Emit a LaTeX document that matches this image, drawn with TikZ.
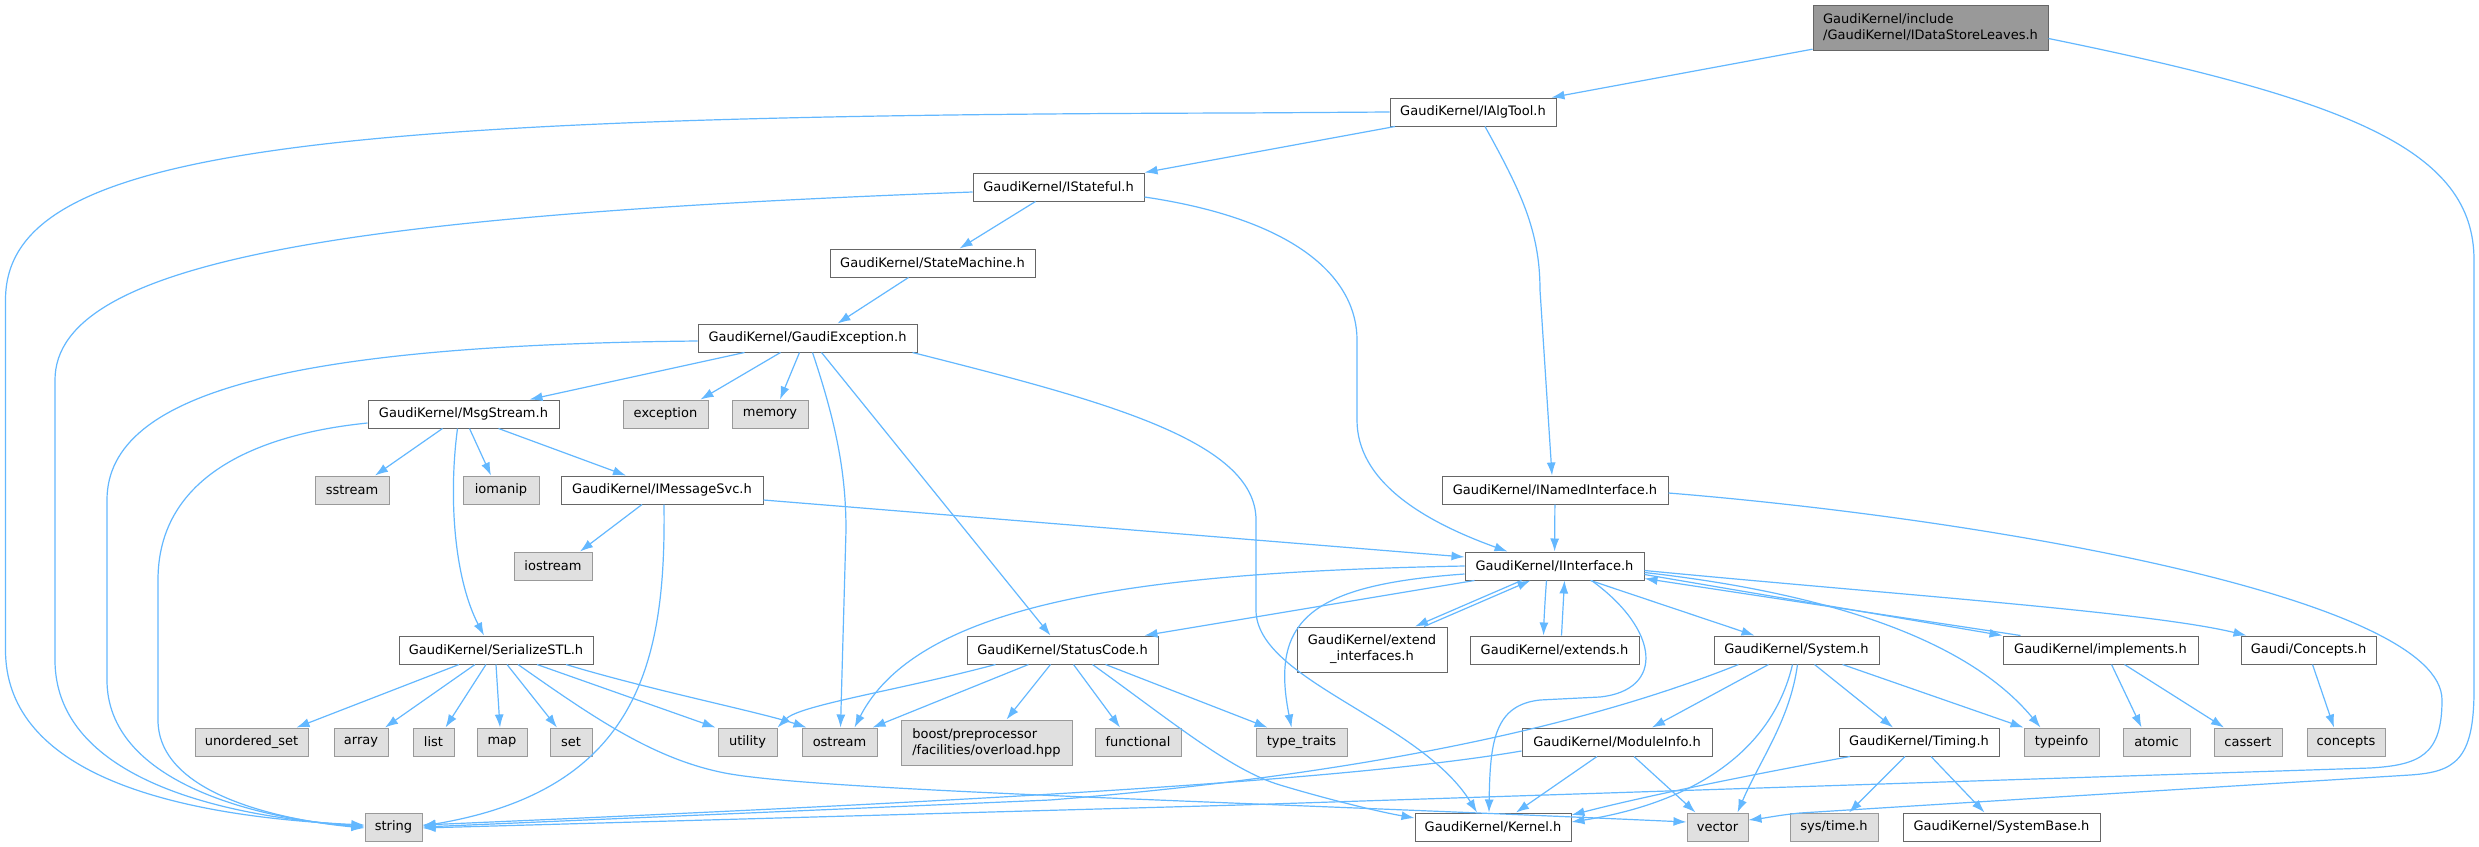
\documentclass[tikz,border=0pt]{standalone}
\usepackage{fontspec}
\newfontfamily\dfont{DejaVu Sans}
\usetikzlibrary{arrows.meta}
\definecolor{edgeblue}{HTML}{63B8FF}
\definecolor{nodeborder}{HTML}{666666}
\definecolor{gborder}{HTML}{999999}
\definecolor{gfill}{HTML}{E0E0E0}
\definecolor{rootfill}{HTML}{999999}
\begin{document}
\begin{tikzpicture}[x=1pt,y=-1pt,
  nb/.style={draw=nodeborder, fill=white, line width=1pt, minimum height=28pt, inner sep=0pt,
    font=\dfont\fontsize{13}{16}\selectfont},
  gb/.style={nb, draw=gborder, fill=gfill},
  rb/.style={nb, fill=rootfill},
  e/.style={draw=edgeblue, line width=1.2pt, -{Latex[length=13pt,width=9pt]}},
]
\useasboundingbox (0,0) rectangle (2479,846);
\fill[white] (0,0) rectangle (2479,846);
% nodes
\node[rb, minimum width=235pt, minimum height=45pt, align=left] (root) at (1930.5,27.5) {GaudiKernel/include\\/GaudiKernel/IDataStoreLeaves.h};
\node[nb, minimum width=166pt] (IAlgTool) at (1473,112) {GaudiKernel/IAlgTool.h};
\node[nb, minimum width=171pt] (IStateful) at (1058.5,187) {GaudiKernel/IStateful.h};
\node[nb, minimum width=205pt] (StateMachine) at (932.5,263) {GaudiKernel/StateMachine.h};
\node[nb, minimum width=219pt] (GE) at (807.5,338) {GaudiKernel/GaudiException.h};
\node[nb, minimum width=191pt] (MsgStream) at (463.5,414) {GaudiKernel/MsgStream.h};
\node[gb, minimum width=85pt] (exception) at (665.5,414) {exception};
\node[gb, minimum width=76pt] (memory) at (770,414) {memory};
\node[gb, minimum width=74pt] (sstream) at (352,490) {sstream};
\node[gb, minimum width=76pt] (iomanip) at (501,490) {iomanip};
\node[nb, minimum width=202pt] (IMessageSvc) at (662,490) {GaudiKernel/IMessageSvc.h};
\node[nb, minimum width=226pt] (INamed) at (1555,490) {GaudiKernel/INamedInterface.h};
\node[gb, minimum width=78pt] (iostream) at (553,566) {iostream};
\node[nb, minimum width=179pt] (II) at (1554.5,566) {GaudiKernel/IInterface.h};
\node[nb, minimum width=194pt] (SSTL) at (496,650) {GaudiKernel/SerializeSTL.h};
\node[nb, minimum width=191pt] (SC) at (1062.5,650) {GaudiKernel/StatusCode.h};
\node[nb, minimum width=150pt, minimum height=45pt, align=center] (extif) at (1372,649.5) {GaudiKernel/extend\\\_interfaces.h};
\node[nb, minimum width=169pt] (extends) at (1554.5,650) {GaudiKernel/extends.h};
\node[nb, minimum width=165pt] (System) at (1796.5,650) {GaudiKernel/System.h};
\node[nb, minimum width=195pt] (impl) at (2100.5,650) {GaudiKernel/implements.h};
\node[nb, minimum width=135pt] (Concepts) at (2308.5,650) {Gaudi/Concepts.h};
\node[gb, minimum width=113pt] (uset) at (251.5,742) {unordered\_set};
\node[gb, minimum width=54pt] (array) at (361,742) {array};
\node[gb, minimum width=41pt] (list) at (433.5,742) {list};
\node[gb, minimum width=50pt] (map) at (502,742) {map};
\node[gb, minimum width=42pt] (set) at (571,742) {set};
\node[gb, minimum width=59pt] (utility) at (747.5,742) {utility};
\node[gb, minimum width=75pt] (ostream) at (839.5,742) {ostream};
\node[gb, minimum width=171pt, minimum height=45pt, align=left] (boost) at (986.5,742.5) {boost/preprocessor\\/facilities/overload.hpp};
\node[gb, minimum width=86pt] (functional) at (1138,742) {functional};
\node[gb, minimum width=91pt] (ttraits) at (1301.5,742) {type\_traits};
\node[nb, minimum width=190pt] (ModuleInfo) at (1617,742) {GaudiKernel/ModuleInfo.h};
\node[nb, minimum width=160pt] (Timing) at (1919,742) {GaudiKernel/Timing.h};
\node[gb, minimum width=75pt] (typeinfo) at (2061.5,742) {typeinfo};
\node[gb, minimum width=67pt] (atomic) at (2156.5,742) {atomic};
\node[gb, minimum width=68pt] (cassert) at (2248,742) {cassert};
\node[gb, minimum width=78pt] (concepts) at (2346,742) {concepts};
\node[gb, minimum width=57pt] (string) at (393.5,827) {string};
\node[nb, minimum width=156pt] (Kernel) at (1493,827) {GaudiKernel/Kernel.h};
\node[gb, minimum width=61pt] (vector) at (1717.5,827) {vector};
\node[gb, minimum width=88pt] (systime) at (1834,827) {sys/time.h};
\node[nb, minimum width=197pt] (SystemBase) at (2001.5,827) {GaudiKernel/SystemBase.h};
% edges
\draw[e] (root) -- (IAlgTool);
\draw[e] ([yshift=-11pt]root.east) .. controls (2350,100) and (2474,150) .. (2474,260) -- (2474,690) .. controls (2474,760) and (2455,772) .. (2410,775) -- (1800,813) .. controls (1780,815) and (1765,818) .. ([yshift=7pt]vector.east);
\draw[e] (IAlgTool.west) -- (1240,113) .. controls (300,115) and (5.5,150) .. (5.5,300) -- (5.5,650) .. controls (5.5,765) and (150,815) .. ([yshift=2pt]string.west);
\draw[e] ([xshift=-78pt]IAlgTool.south) -- (IStateful.north east);
\draw[e] ([xshift=12pt]IAlgTool.south) .. controls (1520,190) and (1540,230) .. (1540,290) -- ([xshift=-3pt]INamed.north);
\draw[e] ([yshift=-5pt]IStateful.west) .. controls (350,215) and (55,260) .. (55,380) -- (55,660) .. controls (55,770) and (200,815) .. ([yshift=1pt]string.west);
\draw[e] ([xshift=-23pt]IStateful.south) -- ([xshift=27pt]StateMachine.north);
\draw[e] ([yshift=-10pt]IStateful.east) .. controls (1300,220) and (1357,280) .. (1357,340) -- (1357,420) .. controls (1357,480) and (1420,520) .. ([xshift=-47pt]II.north);
\draw[e] ([xshift=-24pt]StateMachine.south) -- ([xshift=30pt]GE.north);
\draw[e] ([yshift=-3pt]GE.west) .. controls (300,345) and (107,390) .. (107,500) -- (107,680) .. controls (107,780) and (250,818) .. (string.west);
\draw[e] ([xshift=-63pt]GE.south) -- ([xshift=66pt]MsgStream.north);
\draw[e] ([xshift=-27pt]GE.south) -- ([xshift=35pt]exception.north);
\draw[e] ([xshift=-8pt]GE.south) -- ([xshift=10pt]memory.north);
\draw[e] ([xshift=5pt]GE.south) .. controls (835,420) and (846,470) .. (846,530) -- ([xshift=1pt]ostream.north);
\draw[e] ([xshift=14pt]GE.south) -- ([xshift=-12pt]SC.north);
\draw[e] ([xshift=105pt]GE.south) .. controls (1100,400) and (1256,440) .. (1256,520) -- (1256,610) .. controls (1256,680) and (1420,720) .. ([xshift=-16pt]Kernel.north);
\draw[e] ([yshift=-9pt]MsgStream.west) .. controls (250,435) and (158,480) .. (158,580) -- (158,720) .. controls (158,800) and (300,822) .. ([yshift=-1pt]string.west);
\draw[e] ([xshift=-21pt]MsgStream.south) -- ([xshift=23pt]sstream.north);
\draw[e] ([xshift=6pt]MsgStream.south) -- ([xshift=-10pt]iomanip.north);
\draw[e] ([xshift=35pt]MsgStream.south) -- ([xshift=-36pt]IMessageSvc.north);
\draw[e] ([xshift=-6pt]MsgStream.south) .. controls (448,500) and (455,580) .. ([xshift=-12pt]SSTL.north);
\draw[e] ([xshift=-20pt]IMessageSvc.south) -- ([xshift=27pt]iostream.north);
\draw[e] ([xshift=2pt]IMessageSvc.south) .. controls (666,660) and (640,790) .. ([yshift=1pt]string.east);
\draw[e] ([yshift=-10pt]IMessageSvc.east) -- ([yshift=9pt]II.west);
\draw[e] (INamed) -- (II);
\draw[e] ([yshift=-3pt]INamed.east) .. controls (2000,520) and (2442,600) .. (2442,700) .. controls (2442,755) and (2420,765) .. (2370,768) -- (1240,805) -- ([yshift=-1pt]string.east);
\draw[e] (II.west) .. controls (1150,572) and (920,600) .. ([xshift=15pt]ostream.north);
\draw[e] ([xshift=-80pt]II.south) -- ([xshift=82pt]SC.north);
\draw[e] ([xshift=-33pt]II.south) -- ([xshift=43pt]extif.north);
\draw[e] ([xshift=52pt]extif.north) -- ([xshift=-24pt]II.south);
\draw[e] ([xshift=-8pt]II.south) .. controls (1545,600) and (1544,620) .. ([xshift=-11pt]extends.north);
\draw[e] ([xshift=7pt]extends.north) -- ([xshift=10pt]II.south);
\draw[e] ([xshift=36pt]II.south) -- ([xshift=-42pt]System.north);
\draw[e] ([yshift=6pt]II.south east) -- (impl.north west);
\draw[e] ([xshift=18pt]impl.north west) -- ([yshift=2pt]II.south east);
\draw[e] ([yshift=10pt]II.south east) .. controls (1900,595) and (2150,612) .. ([xshift=6pt]Concepts.north west);
\draw[e] ([yshift=-8pt]II.west) .. controls (1310,585) and (1270,620) .. ([xshift=-10pt]ttraits.north);
\draw[e] ([xshift=37pt]II.south) .. controls (1660,630) and (1665,690) .. (1600,697) -- (1540,700) .. controls (1495,705) and (1490,740) .. ([xshift=-4pt]Kernel.north);
\draw[e] ([yshift=8pt]II.south east) .. controls (1800,590) and (1960,630) .. ([xshift=-21pt]typeinfo.north);
% SerializeSTL
\draw[e] ([xshift=-37pt]SSTL.south) -- ([xshift=45pt]uset.north);
\draw[e] ([xshift=-21pt]SSTL.south) -- ([xshift=24pt]array.north);
\draw[e] ([xshift=-10pt]SSTL.south) -- ([xshift=12pt]list.north);
\draw[e] (SSTL.south) -- ([xshift=-2pt]map.north);
\draw[e] ([xshift=11pt]SSTL.south) -- ([xshift=-14pt]set.north);
\draw[e] ([xshift=22pt]SSTL.south) .. controls (590,715) and (650,757) .. (720,772) .. controls (800,790) and (1200,800) .. ([yshift=5pt]vector.west);
\draw[e] ([xshift=41pt]SSTL.south) -- ([xshift=-32pt]utility.north);
\draw[e] ([xshift=70pt]SSTL.south) .. controls (650,690) and (760,712) .. ([xshift=-33pt]ostream.north);
% StatusCode
\draw[e] ([xshift=-67pt]SC.south) .. controls (900,690) and (800,705) .. ([xshift=30pt]utility.north);
\draw[e] ([xshift=-34pt]SC.south) -- ([xshift=33pt]ostream.north);
\draw[e] ([xshift=-12pt]SC.south) -- ([xshift=20pt]boost.north);
\draw[e] ([xshift=11pt]SC.south) -- ([xshift=-18pt]functional.north);
\draw[e] ([xshift=30pt]SC.south) .. controls (1170,720) and (1230,770) .. (1280,785) .. controls (1330,800) and (1380,812) .. ([yshift=9pt]Kernel.west);
\draw[e] ([xshift=43pt]SC.south) -- ([xshift=-34pt]ttraits.north);
% System
\draw[e] ([xshift=-58pt]System.south) .. controls (1550,740) and (1300,780) .. (1050,800) -- (string.east);
\draw[e] ([xshift=-28pt]System.south) -- ([xshift=35pt]ModuleInfo.north);
\draw[e] ([xshift=-4pt]System.south) .. controls (1770,760) and (1680,805) .. ([yshift=5pt]Kernel.east);
\draw[e] ([xshift=1pt]System.south) .. controls (1790,720) and (1760,760) .. ([xshift=20pt]vector.north);
\draw[e] ([xshift=18pt]System.south) -- ([xshift=-26pt]Timing.north);
\draw[e] ([xshift=46pt]System.south) -- (typeinfo.north west);
% ModuleInfo
\draw[e] ([yshift=-9pt]ModuleInfo.west) .. controls (1350,780) and (1000,800) .. ([yshift=2pt]string.east);
\draw[e] ([xshift=-20pt]ModuleInfo.south) -- ([xshift=23pt]Kernel.north);
\draw[e] ([xshift=17pt]ModuleInfo.south) -- ([xshift=-22pt]vector.north);
% Timing
\draw[e] ([xshift=-69pt]Timing.south) .. controls (1750,775) and (1650,795) .. ([yshift=12pt]Kernel.east);
\draw[e] ([xshift=-14pt]Timing.south) -- ([xshift=15pt]systime.north);
\draw[e] ([xshift=12pt]Timing.south) -- ([xshift=-17pt]SystemBase.north);
% implements, Concepts
\draw[e] ([xshift=11pt]impl.south) -- ([xshift=-15pt]atomic.north);
\draw[e] ([xshift=24pt]impl.south) -- ([xshift=-24pt]cassert.north);
\draw[e] ([xshift=4pt]Concepts.south) -- ([xshift=-12pt]concepts.north);
\end{tikzpicture}
\end{document}
